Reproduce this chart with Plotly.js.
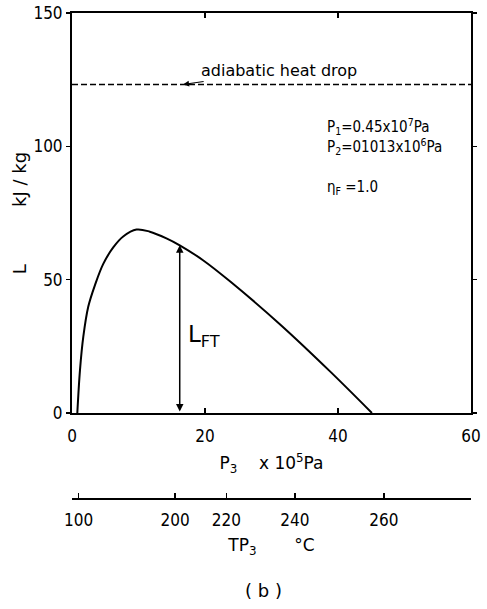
<!DOCTYPE html>
<html>
<head>
<meta charset="utf-8">
<script src="https://cdn.plot.ly/plotly-3.0.1.min.js"></script>
<style>html,body{margin:0;padding:0;background:#fff;}#chart{width:487px;height:609px;}</style>
</head>
<body>
<div id="chart"></div>
<script>
// Main curve: work L (kJ/kg) vs intermediate pressure P3 (x10^5 Pa)
var p3Values = [0.8, 1.2, 1.7, 2.45, 3.5, 4.7, 6.2, 7.7, 9.7, 11.7, 14.2, 16.2, 19.7, 23.8, 31.3, 38.8, 45.1];
var lValues  = [0, 16.1, 28.6, 39.9, 48.3, 55.9, 62.1, 66.2, 68.8, 68.0, 65.5, 62.9, 57.3, 49.3, 33.2, 15.6, 0];

// Adiabatic heat drop level
var adiabaticDrop = 123.2;
var dropRange = [0, 60];

// L_FT arrow
var lftP = 16.2;
var lftL = 62.9;

// Primary axis ticks
var xTicks = [0, 20, 40, 60];
var yTicks = [0, 50, 100, 150];

// Secondary (saturation temperature) axis: temperature labels at their P3 positions
var tempLabels = ["100", "200", "220", "240", "260"];
var tempPositions = [1.0, 15.5, 23.2, 33.5, 46.9];

var tickFont = {family: "DejaVu Sans Condensed, Liberation Sans, sans-serif", size: 17, color: "#000"};
var textFont = {family: "DejaVu Sans, sans-serif", size: 15, color: "#000"};

var traces = [
  {x: p3Values, y: lValues, mode: "lines", line: {color: "#000", width: 2, shape: "spline", smoothing: 1}, hoverinfo: "skip"},
  {x: dropRange, y: [adiabaticDrop, adiabaticDrop], mode: "lines", line: {color: "#000", width: 1.5, dash: "6px,3px"}, hoverinfo: "skip"},
  {x: tempPositions, y: tempPositions.map(function(){return null;}), xaxis: "x2", yaxis: "y", mode: "none", hoverinfo: "skip"}
];

var layout = {
  width: 487, height: 609,
  margin: {l: 72, r: 16, t: 13, b: 50},
  paper_bgcolor: "#fff", plot_bgcolor: "#fff",
  showlegend: false,
  font: textFont,
  xaxis: {
    range: [0, 60], tickvals: xTicks, ticktext: xTicks.map(String),
    showgrid: false, zeroline: false, showline: true, linecolor: "#000", linewidth: 2,
    mirror: "ticks", ticks: "inside", ticklen: 5, tickcolor: "#000", tickwidth: 1.5,
    tickfont: tickFont, ticklabelstandoff: 7,
    title: {text: "P<sub>3</sub>    x 10<sup>5</sup>Pa", font: {family: "DejaVu Sans, sans-serif", size: 17, color: "#000"}, standoff: 12}
  },
  yaxis: {
    range: [0, 150], domain: [0.2674, 1], tickvals: yTicks, ticktext: yTicks.map(String),
    showgrid: false, zeroline: false, showline: true, linecolor: "#000", linewidth: 2,
    mirror: "ticks", ticks: "outside", ticklen: 4, tickcolor: "#000", tickwidth: 1.5,
    tickfont: tickFont,
    title: {text: "L          kJ / kg", font: {family: "DejaVu Sans, sans-serif", size: 18, color: "#000"}, standoff: 2}
  },
  xaxis2: {
    range: [0, 60], overlaying: "x", anchor: "free", position: 0.1117, side: "bottom",
    tickvals: tempPositions, ticktext: tempLabels,
    showgrid: false, zeroline: false, showline: true, linecolor: "#000", linewidth: 1.5,
    ticks: "inside", ticklen: 5, tickcolor: "#000", tickwidth: 1.5,
    tickfont: tickFont, ticklabelstandoff: 6,
    title: {text: "TP<sub>3</sub>       °C", font: {family: "DejaVu Sans, sans-serif", size: 17, color: "#000"}, standoff: 10}
  },
  annotations: [
    {x: 16.7, y: adiabaticDrop, xref: "x", yref: "y", text: "adiabatic heat drop",
     showarrow: true, arrowhead: 2, arrowsize: 1, arrowwidth: 1.2, arrowcolor: "#000",
     ax: 96, ay: -14, font: {family: "DejaVu Sans, sans-serif", size: 16, color: "#000"}},
    {x: lftP, y: lftL, ax: lftP, ay: 0, xref: "x", yref: "y", axref: "x", ayref: "y",
     text: "", showarrow: true, arrowside: "end+start", arrowhead: 2, arrowsize: 1, arrowwidth: 1.5, arrowcolor: "#000"},
    {x: 17.2, y: 29, xref: "x", yref: "y", text: "L<sub>FT</sub>", showarrow: false, xanchor: "left",
     font: {family: "DejaVu Sans, sans-serif", size: 23, color: "#000"}},
    {x: 38.0, y: 107.6, xref: "x", yref: "y", text: "P<sub>1</sub>=0.45x10<sup>7</sup>Pa", showarrow: false, xanchor: "left",
     font: {family: "DejaVu Sans Condensed, DejaVu Sans, sans-serif", size: 15, color: "#000"}},
    {x: 38.0, y: 100.1, xref: "x", yref: "y", text: "P<sub>2</sub>=01013x10<sup>6</sup>Pa", showarrow: false, xanchor: "left",
     font: {family: "DejaVu Sans Condensed, DejaVu Sans, sans-serif", size: 15, color: "#000"}},
    {x: 38.0, y: 84.7, xref: "x", yref: "y", text: "η<sub>F</sub> =1.0", showarrow: false, xanchor: "left",
     font: {family: "DejaVu Sans Condensed, DejaVu Sans, sans-serif", size: 15, color: "#000"}},
    {x: 0.479, y: -0.0568, xref: "paper", yref: "paper", yanchor: "middle", text: "( b )", showarrow: false,
     font: {family: "DejaVu Sans, sans-serif", size: 18, color: "#000"}}
  ]
};

Plotly.newPlot("chart", traces, layout, {displayModeBar: false, staticPlot: true});
</script>
</body>
</html>
